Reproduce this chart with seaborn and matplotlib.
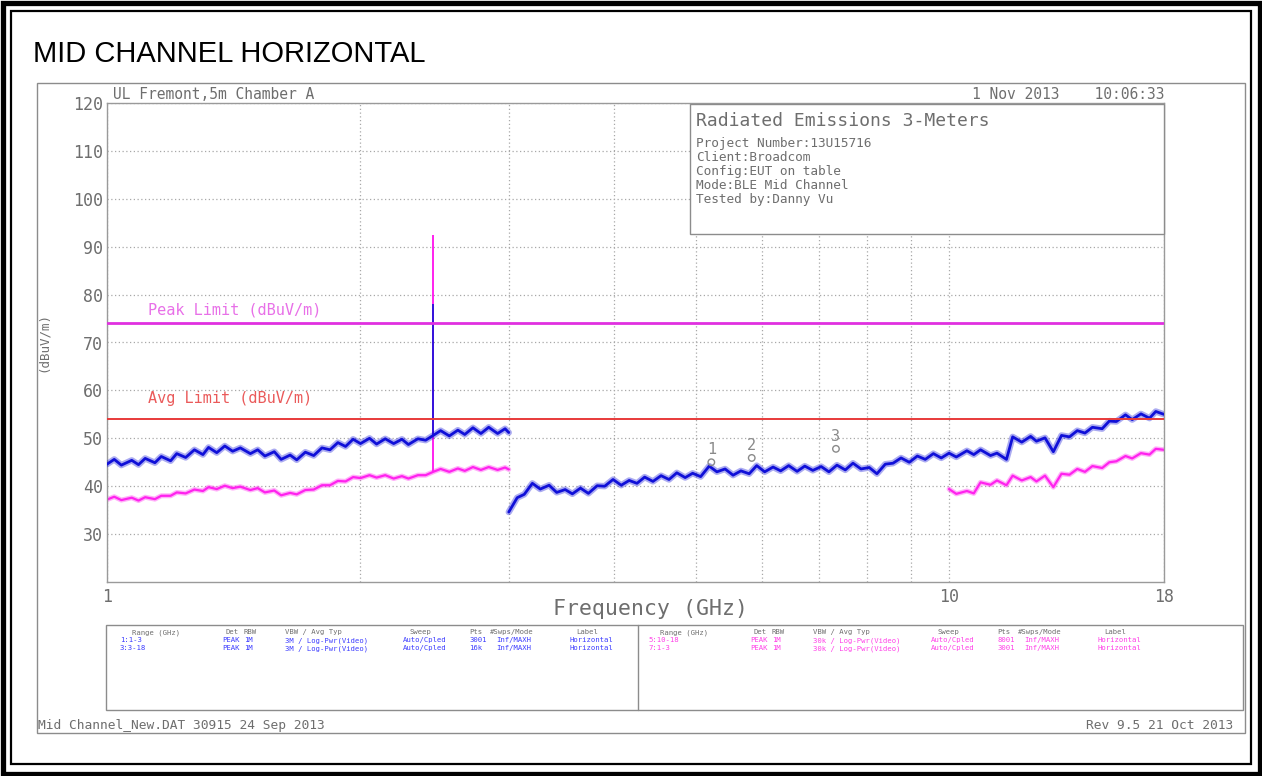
import matplotlib
matplotlib.use("Agg")
import matplotlib.pyplot as plt
from matplotlib.patches import Rectangle
from matplotlib.lines import Line2D
import seaborn as sns

# ---- trace data (GHz, dBuV/m) ----
freq_lo = [1.00, 1.02, 1.04, 1.07, 1.09, 1.11, 1.14, 1.16, 1.19, 1.21, 1.24, 1.27,
           1.30, 1.32, 1.35, 1.38, 1.41, 1.44, 1.48, 1.51, 1.54, 1.58, 1.61, 1.65,
           1.68, 1.72, 1.76, 1.80, 1.84, 1.88, 1.92, 1.96, 2.00, 2.05, 2.09, 2.14,
           2.19, 2.24, 2.28, 2.34, 2.39, 2.44, 2.49, 2.55, 2.61, 2.66,
           2.72, 2.78, 2.84, 2.91, 2.97, 3.00]
peak_lo = [44.6, 45.6, 44.4, 45.4, 44.5, 45.8, 44.9, 46.2, 45.3, 46.8, 46.0, 47.6,
           46.6, 48.1, 47.0, 48.4, 47.3, 48.0, 46.8, 47.6, 46.3, 47.2, 45.6, 46.5,
           45.5, 47.1, 46.4, 48.0, 47.6, 49.1, 48.3, 49.8, 48.9, 50.0, 48.8, 49.9,
           48.9, 49.8, 48.7, 49.9, 49.6, 50.6, 51.6, 50.5, 51.7, 50.8,
           52.2, 51.0, 52.3, 51.0, 52.0, 51.2]
avg_lo = [37.2, 37.8, 37.1, 37.6, 37.0, 37.7, 37.3, 38.0, 38.0, 38.7, 38.5, 39.3,
          39.0, 39.8, 39.4, 40.1, 39.6, 39.9, 39.2, 39.6, 38.7, 39.1, 38.1, 38.6,
          38.3, 39.2, 39.3, 40.2, 40.2, 41.1, 41.0, 41.9, 41.7, 42.3, 41.8, 42.3,
          41.6, 42.1, 41.6, 42.3, 42.3, 43.0, 43.6, 43.0, 43.7, 43.2,
          44.0, 43.4, 44.0, 43.4, 43.9, 43.5]

# BLE carrier at 2.44 GHz: (base of spike, top of spike)
carrier_freq = 2.44
carrier_peak = (50.6, 78.0)
carrier_avg = (43.0, 92.5)

freq_hi = [3.00, 3.07, 3.13, 3.20, 3.27, 3.35, 3.42, 3.50, 3.57, 3.65, 3.73, 3.82,
           3.90, 3.99, 4.08, 4.17, 4.26, 4.35, 4.45, 4.55, 4.65, 4.75, 4.86, 4.96,
           5.07, 5.19, 5.30, 5.42, 5.54, 5.66, 5.79, 5.91, 6.04, 6.18, 6.31, 6.45,
           6.60, 6.74, 6.89, 7.05, 7.20, 7.36, 7.53, 7.69, 7.86, 8.04, 8.21, 8.40,
           8.58, 8.77, 8.97, 9.17, 9.37, 9.58, 9.79, 10.0, 10.2, 10.5, 10.7, 10.9,
           11.2, 11.4, 11.7, 11.9, 12.2, 12.5, 12.7, 13.0, 13.3, 13.6, 13.9, 14.2,
           14.5, 14.8, 15.2, 15.5, 15.8, 16.2, 16.5, 16.9, 17.3, 17.6, 18.0]
peak_hi = [34.6, 37.6, 38.3, 40.6, 39.4, 40.2, 38.7, 39.3, 38.4, 39.6, 38.5, 40.1,
           40.0, 41.4, 40.2, 41.2, 40.6, 41.9, 41.0, 42.2, 41.4, 42.8, 41.8, 42.7,
           42.0, 44.2, 43.0, 43.6, 42.3, 43.2, 42.6, 44.3, 43.0, 44.0, 43.2, 44.3,
           43.1, 44.2, 43.3, 44.1, 43.0, 44.4, 43.4, 44.8, 43.6, 43.9, 42.6, 44.6,
           44.8, 45.9, 45.0, 46.3, 45.6, 46.8, 45.9, 46.9, 46.1, 47.4, 46.6, 47.6,
           46.4, 46.9, 45.6, 50.3, 49.2, 50.4, 49.4, 50.1, 47.2, 50.6, 50.3, 51.6,
           51.1, 52.3, 52.0, 53.6, 53.5, 54.9, 53.9, 55.1, 54.2, 55.6, 55.0]

freq_avg_hi = [10.0, 10.2, 10.5, 10.7, 10.9, 11.2, 11.4, 11.7, 11.9, 12.2, 12.5, 12.7,
               13.0, 13.3, 13.6, 13.9, 14.2, 14.5, 14.8, 15.2, 15.5, 15.8, 16.2, 16.5,
               16.9, 17.3, 17.6, 18.0]
avg_hi = [39.4, 38.4, 39.0, 38.5, 40.8, 40.3, 41.2, 40.2, 42.2, 41.2, 41.9, 41.0,
          42.2, 39.8, 42.6, 42.4, 43.6, 43.0, 44.2, 43.8, 45.0, 45.2, 46.3, 45.8,
          46.9, 46.6, 47.8, 47.6]

peak_limit = 74
avg_limit = 54

marker_ids = ["1", "2", "3"]
marker_freq = [5.22, 5.83, 7.34]
marker_level = [45.0, 45.9, 47.8]

y_ticks = [30, 40, 50, 60, 70, 80, 90, 100, 110, 120]
x_major = [1, 10, 18]
x_minor = [2, 3, 4, 5, 6, 7, 8, 9]

info_lines = ["Project Number:13U15716", "Client:Broadcom", "Config:EUT on table",
              "Mode:BLE Mid Channel", "Tested by:Danny Vu"]

table_head = ["Range (GHz)", "Det", "RBW", "VBW / Avg Typ", "Sweep", "Pts",
              "#Swps/Mode", "Label"]
table_left = [["1:1-3", "PEAK", "1M", "3M / Log-Pwr(Video)", "Auto/Cpled", "3001",
               "Inf/MAXH", "Horizontal"],
              ["3:3-18", "PEAK", "1M", "3M / Log-Pwr(Video)", "Auto/Cpled", "16k",
               "Inf/MAXH", "Horizontal"]]
table_right = [["5:10-18", "PEAK", "1M", "30k / Log-Pwr(Video)", "Auto/Cpled", "8001",
                "Inf/MAXH", "Horizontal"],
               ["7:1-3", "PEAK", "1M", "30k / Log-Pwr(Video)", "Auto/Cpled", "3001",
                "Inf/MAXH", "Horizontal"]]

# ---- style ----
sns.set_style("white")
plt.rcParams["font.family"] = ["DejaVu Sans Mono", "DejaVu Sans"]

BLUE = "#1010d8"
PINK = "#ff22ee"
GRAY = "#6e6e6e"
W, H = 1262, 776

fig = plt.figure(figsize=(W / 100, H / 100), dpi=100)


def frect(x0, y0, x1, y1, **kw):
    r = Rectangle((x0 / W, 1 - y1 / H), (x1 - x0) / W, (y1 - y0) / H,
                  transform=fig.transFigure, **kw)
    fig.add_artist(r)


def fline(x0, y0, x1, y1, **kw):
    fig.add_artist(Line2D([x0 / W, x1 / W], [1 - y0 / H, 1 - y1 / H],
                          transform=fig.transFigure, **kw))


def ftext(x, y, s, **kw):
    fig.text(x / W, 1 - y / H, s, **kw)


ax = fig.add_axes([107 / W, 1 - 582 / H, (1164 - 107) / W, (582 - 103) / H])

# each trace: a faint wide band underneath plus the sharp trace on top
for fx, fy, c, lw_main, lw_band, z in [
        (freq_lo, peak_lo, BLUE, 2.0, 4.6, 3),
        (freq_hi, peak_hi, BLUE, 2.0, 4.6, 3),
        (freq_lo, avg_lo, PINK, 1.6, 3.6, 2),
        (freq_avg_hi, avg_hi, PINK, 1.6, 3.6, 2)]:
    sns.lineplot(x=fx, y=fy, ax=ax, color=c, lw=lw_band, alpha=0.35,
                 sort=False, estimator=None, zorder=z)
    sns.lineplot(x=fx, y=fy, ax=ax, color=c, lw=lw_main, sort=False,
                 estimator=None, zorder=z + 0.5)

ax.vlines(carrier_freq, carrier_avg[0], carrier_avg[1], color=PINK, lw=1.4, zorder=2.6)
ax.vlines(carrier_freq, carrier_peak[0], carrier_peak[1], color=BLUE, lw=1.2, zorder=3.6)

ax.axhline(peak_limit, color="#e030e0", lw=2.0, zorder=4)
ax.axhline(avg_limit, color="#e83a3a", lw=1.4, zorder=4)
ax.text(1.12, peak_limit + 2.8, "Peak Limit (dBuV/m)", color="#e870e8",
        fontsize=11, va="center")
ax.text(1.12, avg_limit + 4.4, "Avg Limit (dBuV/m)", color="#ea5a5a",
        fontsize=11, va="center")

ax.scatter(marker_freq, marker_level, s=22, facecolors="none", edgecolors="#8a8a8a",
           lw=1.0, zorder=5)
for mid, mf, ml in zip(marker_ids, marker_freq, marker_level):
    ax.text(mf, ml + 2.6, mid, color="#8a8a8a", fontsize=11, ha="center",
            va="center", zorder=5)

ax.set_xscale("log")
ax.set_xlim(1, 18)
ax.set_ylim(20, 120)
ax.set_yticks(y_ticks)
ax.set_xticks(x_major)
ax.set_xticklabels([str(v) for v in x_major])
ax.set_xticks(x_minor, minor=True)
ax.set_xticklabels([], minor=True)
ax.tick_params(axis="both", which="both", length=0, colors=GRAY, labelsize=12)
ax.tick_params(axis="x", pad=4)
ax.tick_params(axis="y", pad=3)
ax.grid(True, which="both", axis="x", color="#a8a8a8", ls=(0, (1, 2)), lw=0.9)
ax.grid(True, which="major", axis="y", color="#a8a8a8", ls=(0, (1, 2)), lw=0.9)
for s in ax.spines.values():
    s.set_color("#9a9a9a")
    s.set_linewidth(1.0)
ax.set_xlabel("Frequency (GHz)", color=GRAY, fontsize=15.5)
ax.xaxis.set_label_coords((650 - 107) / (1164 - 107), -0.035)
ax.set_ylabel("(dBuV/m)", color=GRAY, fontsize=9)
ax.yaxis.set_label_coords(-0.054, 0.5)

# ---- outer frames ----
frect(2.5, 2.5, 1259.5, 773.5, fill=False, ec="black", lw=3.8)
frect(11, 11, 1251, 764, fill=False, ec="black", lw=1.6)
frect(37, 83, 1245, 733, fill=False, ec="#8c8c8c", lw=1.0)

ftext(33, 62, "MID CHANNEL HORIZONTAL", fontsize=21, color="black",
      family="Liberation Sans", va="baseline")
ftext(113, 99, "UL Fremont,5m Chamber A", fontsize=10.5, color=GRAY, va="baseline")
ftext(1165, 99, "1 Nov 2013    10:06:33", fontsize=10.5, color=GRAY,
      va="baseline", ha="right")

# info box
frect(690, 104, 1164, 234, fc="white", ec="#8c8c8c", lw=1.0, zorder=6)
ftext(696, 126, "Radiated Emissions 3-Meters", fontsize=13, color=GRAY,
      va="baseline", zorder=7)
for i, line in enumerate(info_lines):
    ftext(696, 147 + 14 * i, line, fontsize=9.2, color=GRAY, va="baseline", zorder=7)

# settings table
frect(106, 625, 1243, 710, fill=False, ec="#8c8c8c", lw=1.0)
fline(638, 625, 638, 710, color="#8c8c8c", lw=1.0)
head_x = [132, 226, 244, 285, 410, 469, 490, 576]
row_x = [120, 222, 244, 285, 403, 469, 496, 570]
shift = 528
for off, rows, col in [(0, table_left, "#3c3cff"), (shift, table_right, "#ff40e8")]:
    for hx, h in zip(head_x, table_head):
        ftext(hx + off, 634, h, fontsize=5.2, color=GRAY, va="baseline")
    for r, row in enumerate(rows):
        for rx, cell in zip(row_x, row):
            ftext(rx + off, 642 + 8 * r, cell, fontsize=5.2, color=col, va="baseline")

ftext(38, 729, "Mid Channel_New.DAT 30915 24 Sep 2013", fontsize=9.3, color=GRAY,
      va="baseline")
ftext(1233, 729, "Rev 9.5 21 Oct 2013", fontsize=9.3, color=GRAY, va="baseline",
      ha="right")

fig.savefig("out.png", dpi=100)
